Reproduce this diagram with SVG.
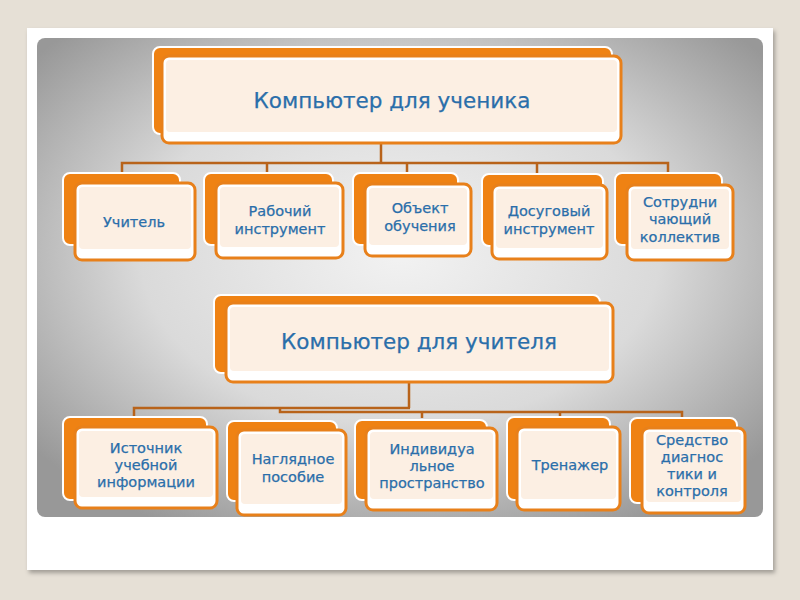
<svg xmlns="http://www.w3.org/2000/svg" width="800" height="600" viewBox="0 0 800 600">
<defs>
<radialGradient id="panel" cx="50%" cy="45%" r="65%">
<stop offset="0" stop-color="#f2f2f2"/>
<stop offset="0.55" stop-color="#dadada"/>
<stop offset="1" stop-color="#989898"/>
</radialGradient>
<filter id="sh" x="-5%" y="-5%" width="110%" height="115%">
<feDropShadow dx="2" dy="3" stdDeviation="2" flood-color="#000" flood-opacity="0.3"/>
</filter>
</defs>
<style>
.back{fill:#ef8213;stroke:#ffffff;stroke-width:2}
.front{fill:#ffffff;stroke:#e8801a;stroke-width:3}
.inner{fill:#fcefe3}
.t{font-family:"DejaVu Sans",Verdana,sans-serif;fill:#2a6eaa;text-anchor:middle;stroke:#2a6eaa;stroke-width:0.25}
.s{font-size:14.5px}
.h{font-size:21.5px}
.con{fill:none;stroke:#b8631a;stroke-width:2.5}
</style>
<rect x="0" y="0" width="800" height="600" fill="#e6e0d6"/>
<rect x="27" y="28" width="746" height="542" fill="#ffffff" filter="url(#sh)"/>
<rect x="37" y="38" width="726" height="479" rx="8" fill="url(#panel)"/>

<g id="connectors" class="con">
<path d="M381,143 V163 M122,173 V163 H668 V173 M267,163 V173 M407,163 V173 M537,163 V173"/>
<path d="M409,382 V408 M134,418 V408 H410 M280,408 V412 H682 V418 M422,412 V418 M560,412 V418"/>
</g>

<g id="n_student">
<rect class="back" x="153" y="47" width="459" height="87" rx="7"/>
<rect class="front" x="162" y="56" width="459" height="87" rx="7"/>
<rect class="inner" x="166" y="60" width="451" height="72" rx="4"/>
<text class="t h" x="392" y="108">Компьютер для ученика</text>
</g>

<g id="n_teacher1">
<rect class="back" x="63" y="173" width="117" height="72" rx="7"/>
<rect class="front" x="75" y="183" width="120" height="77" rx="7"/>
<rect class="inner" x="79" y="187" width="112" height="62" rx="4"/>
<text class="t s" x="134" y="227">Учитель</text>
</g>

<g id="n_work">
<rect class="back" x="204" y="173" width="129" height="72" rx="7"/>
<rect class="front" x="216" y="183" width="127" height="75" rx="7"/>
<rect class="inner" x="220" y="187" width="119" height="60" rx="4"/>
<text class="t s" x="280" y="216">Рабочий</text>
<text class="t s" x="280" y="234">инструмент</text>
</g>

<g id="n_object">
<rect class="back" x="353" y="173" width="105" height="72" rx="7"/>
<rect class="front" x="365" y="184" width="106" height="72" rx="7"/>
<rect class="inner" x="369" y="188" width="98" height="57" rx="4"/>
<text class="t s" x="420" y="213">Объект</text>
<text class="t s" x="420" y="231">обучения</text>
</g>

<g id="n_leisure">
<rect class="back" x="482" y="174" width="121" height="72" rx="7"/>
<rect class="front" x="492" y="185" width="115" height="74" rx="7"/>
<rect class="inner" x="496" y="189" width="107" height="59" rx="4"/>
<text class="t s" x="549" y="216">Досуговый</text>
<text class="t s" x="549" y="234">инструмент</text>
</g>

<g id="n_collab">
<rect class="back" x="615" y="173" width="107" height="72" rx="7"/>
<rect class="front" x="627" y="185" width="106" height="75" rx="7"/>
<rect class="inner" x="631" y="189" width="98" height="60" rx="4"/>
<text class="t s" x="680" y="207">Сотрудни</text>
<text class="t s" x="680" y="224">чающий</text>
<text class="t s" x="680" y="242">коллектив</text>
</g>

<g id="n_teacher">
<rect class="back" x="214" y="295" width="386" height="78" rx="7"/>
<rect class="front" x="226" y="303" width="387" height="79" rx="7"/>
<rect class="inner" x="230" y="307" width="379" height="64" rx="4"/>
<text class="t h" x="419" y="349">Компьютер для учителя</text>
</g>

<g id="n_source">
<rect class="back" x="63" y="417" width="144" height="83" rx="7"/>
<rect class="front" x="75" y="427" width="142" height="81" rx="7"/>
<rect class="inner" x="79" y="431" width="134" height="66" rx="4"/>
<text class="t s" x="146" y="453">Источник</text>
<text class="t s" x="146" y="470">учебной</text>
<text class="t s" x="146" y="487">информации</text>
</g>

<g id="n_visual">
<rect class="back" x="227" y="421" width="110" height="80" rx="7"/>
<rect class="front" x="237" y="430" width="109" height="85" rx="7"/>
<rect class="inner" x="241" y="434" width="101" height="70" rx="4"/>
<text class="t s" x="293" y="464">Наглядное</text>
<text class="t s" x="293" y="482">пособие</text>
</g>

<g id="n_individual">
<rect class="back" x="355" y="420" width="132" height="80" rx="7"/>
<rect class="front" x="366" y="428" width="131" height="82" rx="7"/>
<rect class="inner" x="370" y="432" width="123" height="67" rx="4"/>
<text class="t s" x="432" y="454">Индивидуа</text>
<text class="t s" x="432" y="471">льное</text>
<text class="t s" x="432" y="488">пространство</text>
</g>

<g id="n_trainer">
<rect class="back" x="507" y="417" width="103" height="83" rx="7"/>
<rect class="front" x="517" y="427" width="103" height="83" rx="7"/>
<rect class="inner" x="521" y="431" width="95" height="68" rx="4"/>
<text class="t s" x="570" y="470">Тренажер</text>
</g>

<g id="n_diag">
<rect class="back" x="630" y="418" width="107" height="85" rx="7"/>
<rect class="front" x="642" y="428" width="103" height="85" rx="7"/>
<rect class="inner" x="646" y="432" width="95" height="70" rx="4"/>
<text class="t s" x="692" y="445">Средство</text>
<text class="t s" x="692" y="462">диагнос</text>
<text class="t s" x="692" y="479">тики и</text>
<text class="t s" x="692" y="496">контроля</text>
</g>
</svg>
